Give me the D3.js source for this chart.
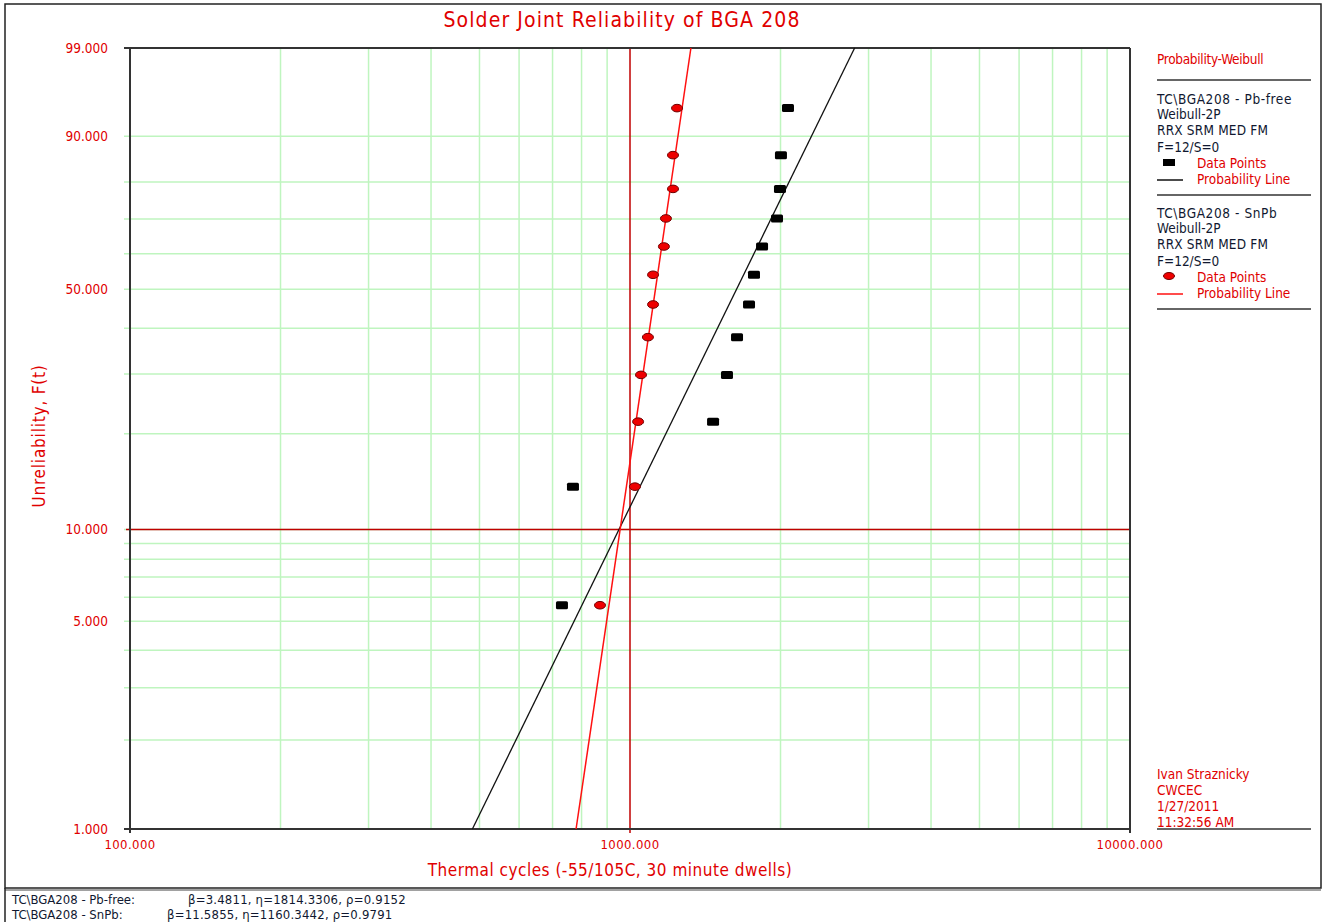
<!DOCTYPE html>
<html>
<head>
<meta charset="utf-8">
<script src="https://cdn.jsdelivr.net/npm/d3@7"></script>
<style>
  body { margin: 0; background: #fff; }
  svg { display: block; }
  text { font-family: "DejaVu Sans Condensed", "Liberation Sans", sans-serif; }
</style>
</head>
<body>
<figure id="weibull" style="margin:0"></figure>
<script>
// unreliability (%) of the plotted points, same ranks for both data sets
const unreliability = [5.65, 13.71, 21.77, 29.84, 37.90, 45.97, 54.03, 62.10, 70.16, 78.23, 86.29, 94.35];
// thermal cycles to failure
const pbFreeCycles = [731, 769, 1466, 1563, 1637, 1730, 1770, 1837, 1968, 1995, 2004, 2070];
const snPbCycles = [871, 1023, 1038, 1052, 1086, 1112, 1112, 1169, 1180, 1219, 1219, 1242];
// fitted Weibull-2P parameters
const pbFreeFit = { beta: 3.4811, eta: 1814.3306, rho: 0.9152 };
const snPbFit = { beta: 11.5855, eta: 1160.3442, rho: 0.9791 };

const yTickLabels = [1, 5, 10, 50, 90, 99];
const yGridLevels = [1, 2, 3, 4, 5, 6, 7, 8, 9, 10, 20, 30, 40, 50, 60, 70, 80, 90, 99];
const xTickLabels = [100, 1000, 10000];
const xGridLevels = [200, 300, 400, 500, 600, 700, 800, 900, 2000, 3000, 4000, 5000, 6000, 7000, 8000, 9000];

const width = 1324, height = 922;
const plotL = 130, plotR = 1130, plotT = 48, plotB = 829;

const svg = d3.select("figure#weibull")
  .append("svg")
  .attr("width", width)
  .attr("height", height);

// weibull transform of unreliability in percent
const wb = p => Math.log(-Math.log(1 - p / 100));

const x = d3.scaleLog().domain([100, 10000]).range([plotL, plotR]);
const y = d3.scaleLinear().domain([wb(1), wb(99)]).range([plotB, plotT]);
const yF = p => y(wb(p));

// outer frames
svg.append("rect").attr("x", 5).attr("y", 4).attr("width", 1316).attr("height", 884)
  .attr("fill", "none").attr("stroke", "#222").attr("stroke-width", 1.5);
svg.append("line").attr("x1", 5).attr("x2", 1321).attr("y1", 890).attr("y2", 890)
  .attr("stroke", "#444").attr("stroke-width", 1);
svg.append("line").attr("x1", 5).attr("x2", 5).attr("y1", 888).attr("y2", 922)
  .attr("stroke", "#222").attr("stroke-width", 1.5);

const green = "#bff5bf";

// grid
svg.append("g").selectAll("line")
  .data(yGridLevels)
  .enter()
  .append("line")
  .attr("x1", plotL - 6).attr("x2", plotR)
  .attr("y1", d => yF(d)).attr("y2", d => yF(d))
  .attr("stroke", green).attr("stroke-width", 1.5);

svg.append("g").selectAll("line")
  .data(xGridLevels)
  .enter()
  .append("line")
  .attr("x1", d => x(d)).attr("x2", d => x(d))
  .attr("y1", plotT).attr("y2", plotB)
  .attr("stroke", green).attr("stroke-width", 1.5);

// reference cross at 1000 cycles / 10%
svg.append("line").attr("x1", x(1000)).attr("x2", x(1000)).attr("y1", plotT).attr("y2", plotB + 4)
  .attr("stroke", "#c00000").attr("stroke-width", 1.5);
svg.append("line").attr("x1", plotL - 4).attr("x2", plotR).attr("y1", yF(10)).attr("y2", yF(10))
  .attr("stroke", "#c00000").attr("stroke-width", 1.5);

// plot frame
svg.append("line").attr("x1", plotL - 6).attr("x2", plotR).attr("y1", plotT).attr("y2", plotT)
  .attr("stroke", "#333").attr("stroke-width", 2);
svg.append("line").attr("x1", plotL - 6).attr("x2", plotR).attr("y1", plotB).attr("y2", plotB)
  .attr("stroke", "#333").attr("stroke-width", 2);
svg.append("line").attr("x1", plotL).attr("x2", plotL).attr("y1", plotT).attr("y2", plotB + 4)
  .attr("stroke", "#333").attr("stroke-width", 2);
svg.append("line").attr("x1", plotR).attr("x2", plotR).attr("y1", plotT).attr("y2", plotB + 4)
  .attr("stroke", "#333").attr("stroke-width", 2);

// probability lines (straight on weibull paper)
function fitLine(fit) {
  return [1, 99].map(p => ({
    t: fit.eta * Math.pow(-Math.log(1 - p / 100), 1 / fit.beta),
    p: p
  }));
}
const line = d3.line().x(d => x(d.t)).y(d => yF(d.p));

svg.append("path")
  .datum(fitLine(pbFreeFit))
  .attr("fill", "none").attr("stroke", "#111").attr("stroke-width", 1.3)
  .attr("d", line);
svg.append("path")
  .datum(fitLine(snPbFit))
  .attr("fill", "none").attr("stroke", "#ff1010").attr("stroke-width", 1.5)
  .attr("d", line);

// data points
svg.append("g").selectAll("rect")
  .data(pbFreeCycles)
  .enter()
  .append("rect")
  .attr("x", d => x(d) - 6)
  .attr("y", (d, i) => yF(unreliability[i]) - 4)
  .attr("width", 12).attr("height", 8).attr("rx", 1.5)
  .attr("fill", "#000");

svg.append("g").selectAll("ellipse")
  .data(snPbCycles)
  .enter()
  .append("ellipse")
  .attr("cx", d => x(d))
  .attr("cy", (d, i) => yF(unreliability[i]))
  .attr("rx", 5.5).attr("ry", 3.8)
  .attr("fill", "#ee0000").attr("stroke", "#700000").attr("stroke-width", 1);

// tick labels
const red = "#e00000";
svg.append("g").selectAll("text")
  .data(yTickLabels)
  .enter()
  .append("text")
  .attr("x", 108).attr("y", d => yF(d) + 5)
  .attr("text-anchor", "end")
  .attr("fill", red).attr("font-size", 13.5)
  .text(d => d3.format(".3f")(d));

svg.append("g").selectAll("text")
  .data(xTickLabels)
  .enter()
  .append("text")
  .attr("x", d => x(d)).attr("y", 849)
  .attr("text-anchor", "middle")
  .attr("fill", red).attr("font-size", 13)
  .attr("letter-spacing", 0.4)
  .text(d => d3.format(".3f")(d));

// titles
svg.append("text").attr("x", 622).attr("y", 27).attr("text-anchor", "middle")
  .attr("fill", red).attr("font-size", 21).attr("letter-spacing", 1.1)
  .text("Solder Joint Reliability of BGA 208");
svg.append("text").attr("x", 610).attr("y", 876).attr("text-anchor", "middle")
  .attr("fill", red).attr("font-size", 17).attr("letter-spacing", 0.5)
  .text("Thermal cycles (-55/105C, 30 minute dwells)");
svg.append("text").attr("transform", "translate(45,436) rotate(-90)").attr("text-anchor", "middle")
  .attr("fill", red).attr("font-size", 17).attr("letter-spacing", 0.8).text("Unreliability, F(t)");

// legend panel
const lx = 1157, lw = 154;
const legendText = (t, xx, yy, col, ls) => svg.append("text").attr("x", xx).attr("y", yy)
  .attr("fill", col).attr("font-size", 13.5).attr("letter-spacing", ls || 0).text(t);
const sep = yy => svg.append("line").attr("x1", lx).attr("x2", lx + lw).attr("y1", yy).attr("y2", yy)
  .attr("stroke", "#333").attr("stroke-width", 1.5);

legendText("Probability-Weibull", lx, 64, red, -0.3);
sep(80);

const blocks = [
  { name: "TC\\BGA208 - Pb-free", y0: 104, marker: "rect", lineCol: "#111" },
  { name: "TC\\BGA208 - SnPb", y0: 218, marker: "ellipse", lineCol: "#ff1010" }
];
blocks.forEach(b => {
  const navy = "#101830";
  legendText(b.name, lx, b.y0, navy, 0.6);
  legendText("Weibull-2P", lx, b.y0 + 15, navy);
  legendText("RRX SRM MED FM", lx, b.y0 + 31, navy, 0.2);
  legendText("F=12/S=0", lx, b.y0 + 48, navy);
  if (b.marker === "rect") {
    svg.append("rect").attr("x", 1163).attr("y", b.y0 + 55).attr("width", 12).attr("height", 7).attr("fill", "#000");
  } else {
    svg.append("ellipse").attr("cx", 1169).attr("cy", b.y0 + 58).attr("rx", 5.5).attr("ry", 3.5)
      .attr("fill", "#ee0000").attr("stroke", "#700000");
  }
  legendText("Data Points", 1197, b.y0 + 64, red);
  svg.append("line").attr("x1", lx).attr("x2", 1183).attr("y1", b.y0 + 76).attr("y2", b.y0 + 76)
    .attr("stroke", b.lineCol).attr("stroke-width", 1.5);
  legendText("Probability Line", 1197, b.y0 + 80, red);
  sep(b.y0 + 91);
});

["Ivan Straznicky", "CWCEC", "1/27/2011", "11:32:56 AM"].forEach((t, i) => {
  legendText(t, lx, 779 + i * 16, red);
});
sep(829);

// parameter strip
const strip = [
  { name: "TC\\BGA208 - Pb-free:", fit: pbFreeFit, px: 188, y: 904 },
  { name: "TC\\BGA208 - SnPb:", fit: snPbFit, px: 167, y: 919 }
];
strip.forEach(s => {
  svg.append("text").attr("x", 12).attr("y", s.y).attr("fill", "#101830").attr("font-size", 13)
    .text(s.name);
  svg.append("text").attr("x", s.px).attr("y", s.y).attr("fill", "#101830").attr("font-size", 13)
    .attr("letter-spacing", 0.2)
    .text("\u03b2=" + s.fit.beta + ", \u03b7=" + s.fit.eta + ", \u03c1=" + s.fit.rho);
});
</script>
</body>
</html>
